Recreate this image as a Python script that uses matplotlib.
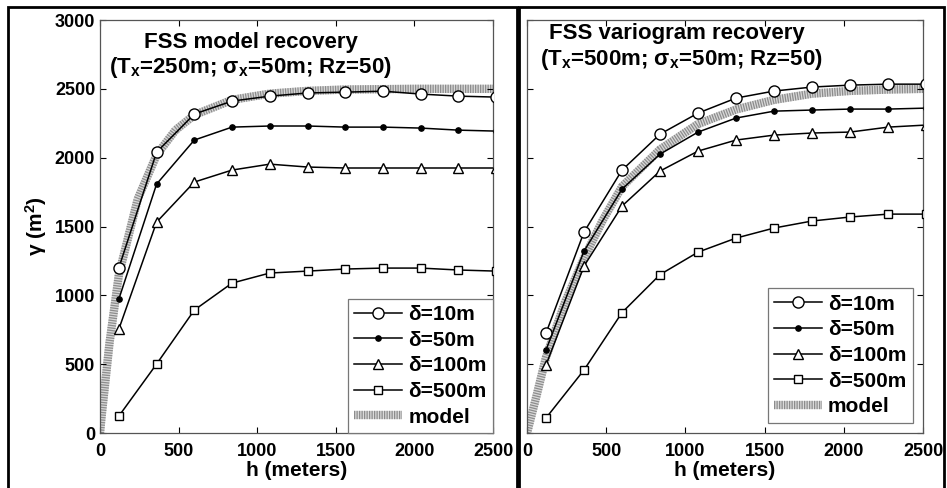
import matplotlib
matplotlib.use('Agg')
import matplotlib.pyplot as plt
from matplotlib.patches import Rectangle

plt.rcParams['font.family'] = ['Liberation Sans', 'DejaVu Sans']
plt.rcParams['font.weight'] = 'bold'
plt.rcParams['mathtext.fontset'] = 'custom'
plt.rcParams['mathtext.rm'] = 'Liberation Sans:bold'
plt.rcParams['mathtext.it'] = 'Liberation Sans:bold'
plt.rcParams['mathtext.bf'] = 'Liberation Sans:bold'

# lag distances (last point lies just past the axis edge)
h = [120, 360, 600, 840, 1080, 1320, 1560, 1800, 2040, 2280, 2520]

# left panel: model recovery
left_d10 = [1200, 2040, 2317, 2411, 2447, 2470, 2476, 2483, 2462, 2447, 2440]
left_d50 = [973, 1808, 2128, 2222, 2230, 2230, 2222, 2222, 2215, 2200, 2193]
left_d100 = [755, 1532, 1823, 1910, 1953, 1932, 1925, 1925, 1925, 1925, 1925]
left_d500 = [123, 501, 893, 1089, 1162, 1176, 1191, 1198, 1198, 1184, 1176]
left_model_h = [0, 10, 30, 60, 120, 240, 360, 480, 600, 840, 1080, 1320, 1560, 2000, 2500]
left_model = [0, 120, 330, 650, 1150, 1700, 2020, 2200, 2310, 2420, 2465, 2485, 2495, 2500, 2500]

# right panel: variogram recovery
right_d10 = [726, 1460, 1910, 2171, 2324, 2433, 2484, 2513, 2527, 2534, 2534]
right_d50 = [603, 1322, 1772, 2026, 2186, 2288, 2338, 2346, 2353, 2353, 2360]
right_d100 = [494, 1213, 1649, 1903, 2048, 2128, 2164, 2179, 2186, 2222, 2237]
right_d500 = [109, 458, 875, 1151, 1314, 1416, 1489, 1540, 1569, 1590, 1590]
right_model_h = [0, 60, 120, 240, 360, 480, 600, 840, 1080, 1320, 1560, 1800, 2040, 2280, 2500]
right_model = [0, 270, 550, 950, 1270, 1550, 1790, 2060, 2245, 2350, 2420, 2465, 2485, 2495, 2500]

labels = ['δ=10m', 'δ=50m', 'δ=100m', 'δ=500m', 'model']
xticks = [0, 500, 1000, 1500, 2000, 2500]
yticks = [0, 500, 1000, 1500, 2000, 2500, 3000]

fig = plt.figure(figsize=(9.47, 4.88), dpi=100)
ax1 = fig.add_axes([0.1056, 0.1127, 0.415, 0.8463])
ax2 = fig.add_axes([0.5565, 0.1127, 0.4182, 0.8463])


def draw(ax, mh, mv, d10, d50, d100, d500, legpad):
    # hatched grey model band
    m1, = ax.plot(mh, mv, color='#d9d9d9', lw=6, solid_capstyle='butt', zorder=1)
    m2, = ax.plot(mh, mv, color='#8c8c8c', lw=6, ls=(0, (0.15, 0.15)),
                  dash_capstyle='butt', zorder=1)
    kw = dict(color='black', lw=1.1, zorder=3)
    l1, = ax.plot(h, d10, marker='o', ms=8, mfc='white', mec='black', mew=1.0, **kw)
    l2, = ax.plot(h, d50, marker='o', ms=3.8, mfc='black', mec='black', **kw)
    l3, = ax.plot(h, d100, marker='^', ms=7.5, mfc='white', mec='black', mew=1.0, **kw)
    l4, = ax.plot(h, d500, marker='s', ms=6, mfc='white', mec='black', mew=1.0, **kw)
    ax.set_xlim(0, 2500)
    ax.set_ylim(0, 3000)
    ax.set_xticks(xticks)
    ax.set_yticks(yticks)
    ax.tick_params(direction='in', top=True, right=True, length=4, width=0.8,
                   labelsize=13, colors='black')
    ax.tick_params(axis='x', pad=7)
    for s in ax.spines.values():
        s.set_linewidth(0.9)
        s.set_color('#555555')
    ax.set_xlabel('h (meters)', fontsize=15, fontweight='bold', labelpad=1)
    leg = ax.legend([l1, l2, l3, l4, (m1, m2)], labels, loc='lower right',
                    fontsize=15, numpoints=1, handlelength=2.3, handletextpad=0.3,
                    labelspacing=0.32, borderpad=0.3, borderaxespad=legpad,
                    fancybox=False, framealpha=1, edgecolor='#777777')
    leg.get_frame().set_linewidth(0.9)
    return leg


draw(ax1, left_model_h, left_model, left_d10, left_d50, left_d100, left_d500, 0.0)
draw(ax2, right_model_h, right_model, right_d10, right_d50, right_d100, right_d500, 0.5)

ax1.set_ylabel('γ (m$^2$)', fontsize=15, fontweight='bold', labelpad=4)
ax2.tick_params(labelleft=False)

ax1.text(0.384, 0.932, 'FSS model recovery', transform=ax1.transAxes,
         ha='center', va='baseline', fontsize=16, fontweight='bold')
ax1.text(0.384, 0.872, '(T$_\\mathrm{x}$=250m; σ$_\\mathrm{x}$=50m; Rz=50)',
         transform=ax1.transAxes, ha='center', va='baseline', fontsize=16,
         fontweight='bold')
ax2.text(0.379, 0.954, 'FSS variogram recovery', transform=ax2.transAxes,
         ha='center', va='baseline', fontsize=16, fontweight='bold')
ax2.text(0.39, 0.891, '(T$_\\mathrm{x}$=500m; σ$_\\mathrm{x}$=50m; Rz=50)',
         transform=ax2.transAxes, ha='center', va='baseline', fontsize=16,
         fontweight='bold')

# panel frames
fig.add_artist(Rectangle((0.0085, -0.02), 0.537, 1.006, transform=fig.transFigure,
                         fill=False, lw=2, edgecolor='black'))
fig.add_artist(Rectangle((0.5485, -0.02), 0.448, 1.006, transform=fig.transFigure,
                         fill=False, lw=2, edgecolor='black'))

fig.savefig('out.png', dpi=100)
